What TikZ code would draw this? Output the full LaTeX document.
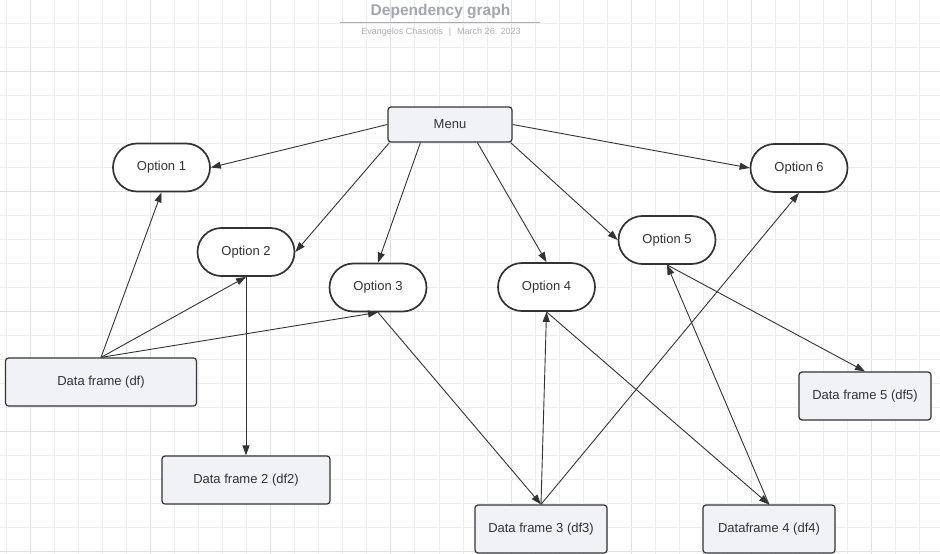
\documentclass[tikz,border=0pt]{standalone}
\usepackage{fontspec}
\setmainfont{Liberation Sans}
\usetikzlibrary{arrows.meta}
\definecolor{ink}{RGB}{51,51,51}
\definecolor{boxfill}{RGB}{241,242,245}
\definecolor{gridminor}{RGB}{237,237,237}
\definecolor{gridmajor}{RGB}{224,224,224}
\definecolor{titlegray}{RGB}{163,166,176}
\definecolor{subgray}{RGB}{170,172,180}
\tikzset{
  optbox/.style={draw=ink, line width=1.7pt, fill=white, rounded corners=24pt,
    minimum width=97pt, minimum height=48pt, inner sep=0pt, text=ink,
    font=\fontsize{13pt}{15pt}\selectfont},
  framebox/.style={draw=ink, line width=1.2pt, fill=boxfill, rounded corners=3pt,
    minimum height=48pt, inner sep=0pt, text=ink,
    font=\fontsize{13pt}{15pt}\selectfont},
  link/.style={draw=ink, line width=0.9pt, -{Triangle[length=10pt,width=7pt]}},
}
\begin{document}
\begin{tikzpicture}[x=1pt,y=-1pt]
\useasboundingbox (0,0) rectangle (940,554);
\fill[white] (0,0) rectangle (940,554);
% grid
\foreach \k in {0,...,38} {
  \pgfmathsetmacro{\gx}{6.3+24.04*\k}
  \pgfmathtruncatemacro{\gm}{mod(\k,5)}
  \ifnum\gm=1
    \draw[gridmajor, line width=1pt] (\gx,0) -- (\gx,554);
  \else
    \draw[gridminor, line width=1pt] (\gx,0) -- (\gx,554);
  \fi
}
\foreach \k in {0,...,23} {
  \pgfmathsetmacro{\gy}{-0.3+24*\k}
  \pgfmathtruncatemacro{\gm}{mod(\k,5)}
  \ifnum\gm=3
    \draw[gridmajor, line width=1pt] (0,\gy) -- (940,\gy);
  \else
    \draw[gridminor, line width=1pt] (0,\gy) -- (940,\gy);
  \fi
}
% title
\node[text=titlegray, font=\bfseries\fontsize{15.5pt}{17pt}\selectfont] (title) at (440.5,12) {Dependency graph};
\coordinate (ulL) at (340,22.5);
\coordinate (ulR) at (540,22.5);
\draw[subgray, line width=1pt] (ulL) -- (ulR);
\node[text=subgray, font=\fontsize{9pt}{10pt}\selectfont] (subtitle) at (441,32) {Evangelos Chasiotis\hspace{6pt}|\hspace{6pt}March 26. 2023};
% nodes
\node[framebox, minimum width=124pt, minimum height=35pt] (menu) at (450,124.5) {Menu};
\node[optbox] (o1) at (161.5,167.5) {Option 1};
\node[optbox] (o2) at (246,252) {Option 2};
\node[optbox] (o3) at (378,287.5) {Option 3};
\node[optbox] (o4) at (546.5,287) {Option 4};
\node[optbox] (o5) at (667,240) {Option 5};
\node[optbox] (o6) at (799,168) {Option 6};
\node[framebox, minimum width=191pt] (df) at (101,382) {Data frame (df)};
\node[framebox, minimum width=168pt] (df2) at (246,480) {Data frame 2 (df2)};
\node[framebox, minimum width=132pt] (df3) at (541,529) {Data frame 3 (df3)};
\node[framebox, minimum width=132pt] (df4) at (769,529) {Dataframe 4 (df4)};
\node[framebox, minimum width=132pt] (df5) at (865,396) {Data frame 5 (df5)};
% edges
\draw[link] (menu.west) -- (o1.east);
\draw[link] ([xshift=2pt]menu.south west) -- (o2.east);
\draw[link] ([xshift=33pt]menu.south west) -- (o3.north);
\draw[link] ([xshift=90pt]menu.south west) -- (o4.north);
\draw[link] ([xshift=-2pt]menu.south east) -- (o5.west);
\draw[link] (menu.east) -- (o6.west);
\draw[link] (df.north) -- (o1.south);
\draw[link] (df.north) -- (o2.south);
\draw[link] (df.north) -- (o3.south);
\draw[link] (o2.south) -- (df2.north);
\draw[link] (o3.south) -- (df3.north);
\draw[link] (df3.north) -- (o4.south);
\draw[link] (df3.north) -- (o6.south);
\draw[link] (o4.south) -- (df4.north);
\draw[link] (df4.north) -- (o5.south);
\draw[link] (o5.south) -- (df5.north);
\end{tikzpicture}
\end{document}
